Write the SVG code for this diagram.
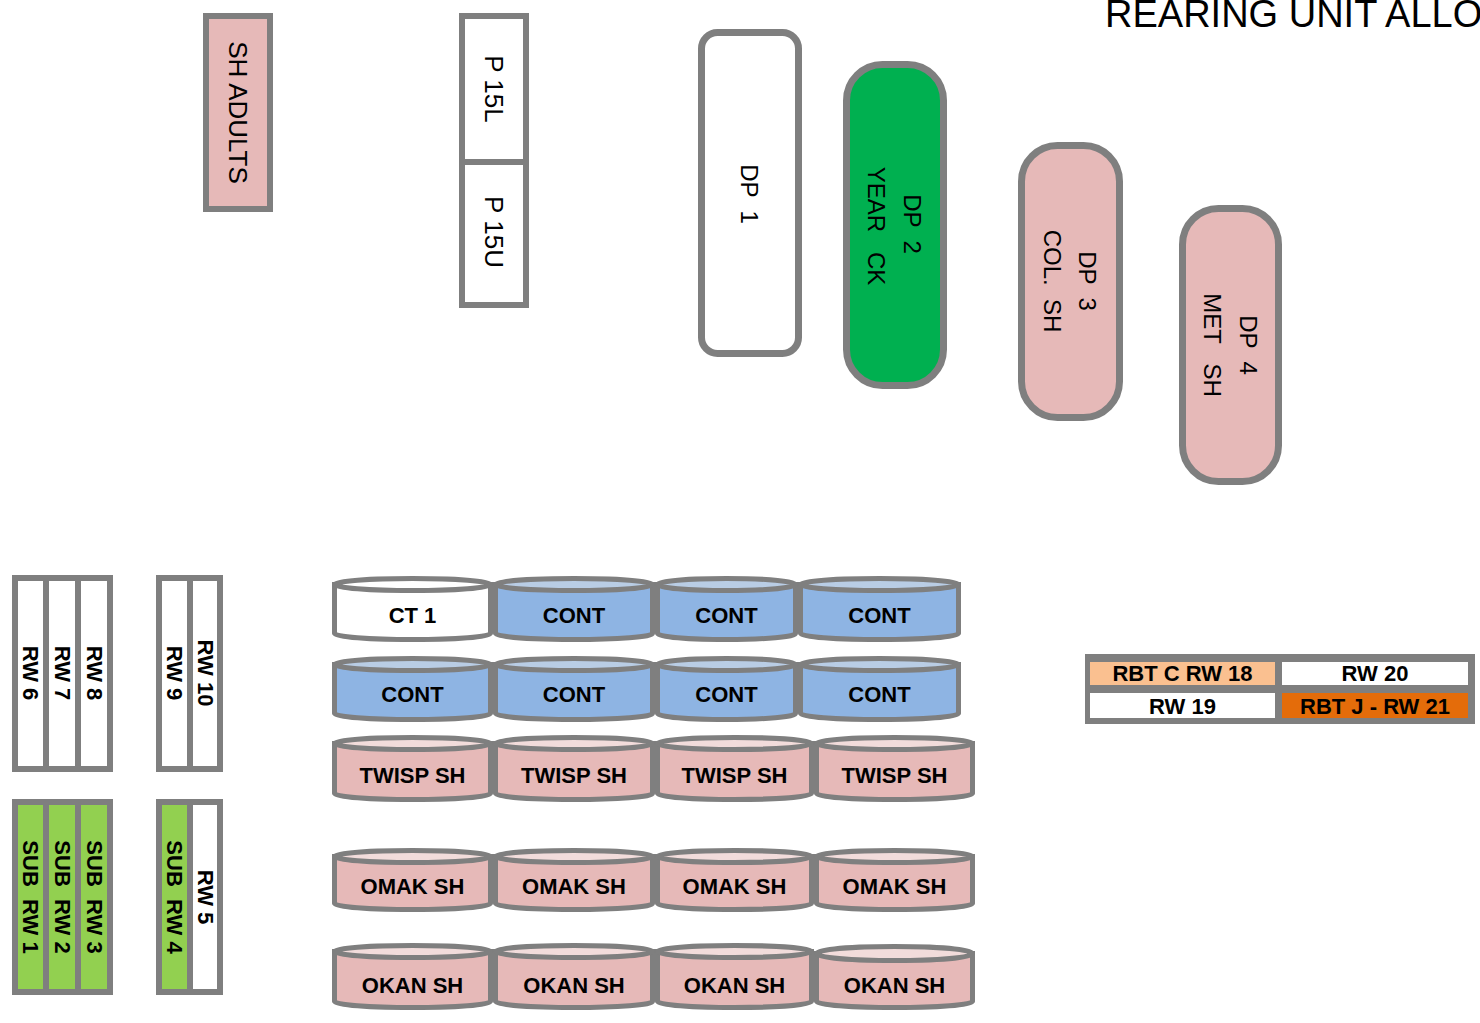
<svg xmlns="http://www.w3.org/2000/svg" width="1480" height="1023" viewBox="0 0 1480 1023">
<style>
.box{stroke:#7F7F7F;stroke-width:6}
.dp{stroke:#7F7F7F;stroke-width:7}
.tk{stroke:#7F7F7F;stroke-width:5}
.t{font-family:"Liberation Sans",Arial,sans-serif;fill:#000;text-anchor:middle;dominant-baseline:central;white-space:pre}
.r26{font-size:26px}
.r24{font-size:24px}
.b{font-weight:bold;font-size:22px}
.pk{fill:#E6B9B8}
.pkt{fill:#F2DCDB}
.bl{fill:#8EB4E3}
.blt{fill:#B9CDE5}
.wh{fill:#FFFFFF}
.gr{fill:#92D050}
</style>
<rect width="1480" height="1023" fill="#FFFFFF"/>
<text x="1105" y="27" style="font-family:'Liberation Sans',Arial,sans-serif;font-size:38px;fill:#000">REARING UNIT ALLO</text>

<g id="sh-adults">
<rect class="box pk" x="206" y="16" width="64" height="193"/>
<text class="t r26" transform="translate(238 112.5) rotate(90)">SH ADULTS</text>
</g>

<g id="p15">
<rect class="box wh" x="462" y="16" width="64" height="289"/>
<line class="box" x1="462" y1="162" x2="526" y2="162"/>
<text class="t r26" transform="translate(494 89) rotate(90)">P 15L</text>
<text class="t r26" transform="translate(494 232) rotate(90)">P 15U</text>
</g>

<g id="dp1">
<rect class="dp wh" x="701.5" y="32.5" width="97" height="321" rx="16"/>
<text class="t r24" transform="translate(749 194) rotate(90)">DP  1</text>
</g>
<g id="dp2">
<rect class="dp" fill="#00B050" x="846.5" y="64.5" width="97" height="321" rx="36"/>
<text class="t r24" transform="translate(912 224) rotate(90)">DP  2</text>
<text class="t r24" transform="translate(876 226) rotate(90)">YEAR   CK</text>
</g>
<g id="dp3">
<rect class="dp pk" x="1021.5" y="145.5" width="98" height="272" rx="36"/>
<text class="t r24" transform="translate(1087 281) rotate(90)">DP  3</text>
<text class="t r24" transform="translate(1052 281) rotate(90)">COL.  SH</text>
</g>
<g id="dp4">
<rect class="dp pk" x="1182.5" y="208.5" width="96" height="273" rx="36"/>
<text class="t r24" transform="translate(1248 345) rotate(90)">DP  4</text>
<text class="t r24" transform="translate(1212 345) rotate(90)">MET   SH</text>
</g>

<g id="rw6-8">
<rect class="box wh" x="15" y="578" width="95" height="191"/>
<line class="box" x1="46" y1="578" x2="46" y2="769"/>
<line class="box" x1="78" y1="578" x2="78" y2="769"/>
<text class="t b" transform="translate(30.5 673) rotate(90)">RW 6</text>
<text class="t b" transform="translate(62 673) rotate(90)">RW 7</text>
<text class="t b" transform="translate(94 673) rotate(90)">RW 8</text>
</g>
<g id="rw9-10">
<rect class="box wh" x="159" y="578" width="61" height="191"/>
<line class="box" x1="190" y1="578" x2="190" y2="769"/>
<text class="t b" transform="translate(174.5 673) rotate(90)">RW 9</text>
<text class="t b" transform="translate(205 673) rotate(90)">RW 10</text>
</g>
<g id="sub-rw1-3">
<rect class="box gr" x="15" y="802" width="95" height="190"/>
<line class="box" x1="46" y1="802" x2="46" y2="992"/>
<line class="box" x1="78" y1="802" x2="78" y2="992"/>
<text class="t b" transform="translate(30.5 897) rotate(90)">SUB  RW 1</text>
<text class="t b" transform="translate(62 897) rotate(90)">SUB  RW 2</text>
<text class="t b" transform="translate(94 897) rotate(90)">SUB  RW 3</text>
</g>
<g id="rw4-5">
<rect class="box wh" x="159" y="802" width="61" height="190"/>
<rect class="gr" x="162" y="805" width="28" height="184"/>
<line class="box" x1="190" y1="802" x2="190" y2="992"/>
<text class="t b" transform="translate(174.5 897) rotate(90)">SUB  RW 4</text>
<text class="t b" transform="translate(205 897) rotate(90)">RW 5</text>
</g>

<!-- row 1 -->
<g id="ct1">
<path class="tk wh" d="M334.5 584.5V633.5A78 6 0 0 0 490.5 633.5V584.5Z"/>
<ellipse class="tk wh" cx="412.5" cy="584.5" rx="78" ry="6"/>
<text class="t b" x="412.5" y="615">CT 1</text>
</g>
<g id="cont-1-2">
<path class="tk bl" d="M495.5 584.5V633.5A78.5 6 0 0 0 652.5 633.5V584.5Z"/>
<ellipse class="tk blt" cx="574" cy="584.5" rx="78.5" ry="6"/>
<text class="t b" x="574" y="615">CONT</text>
</g>
<g id="cont-1-3">
<path class="tk bl" d="M657.5 584.5V633.5A69 6 0 0 0 795.5 633.5V584.5Z"/>
<ellipse class="tk blt" cx="726.5" cy="584.5" rx="69" ry="6"/>
<text class="t b" x="726.5" y="615">CONT</text>
</g>
<g id="cont-1-4">
<path class="tk bl" d="M800.5 584.5V633.5A79 6 0 0 0 958.5 633.5V584.5Z"/>
<ellipse class="tk blt" cx="879.5" cy="584.5" rx="79" ry="6"/>
<text class="t b" x="879.5" y="615">CONT</text>
</g>
<!-- row 2 -->
<g id="cont-2-1">
<path class="tk bl" d="M334.5 664.5V713.5A78 6 0 0 0 490.5 713.5V664.5Z"/>
<ellipse class="tk blt" cx="412.5" cy="664.5" rx="78" ry="6"/>
<text class="t b" x="412.5" y="694">CONT</text>
</g>
<g id="cont-2-2">
<path class="tk bl" d="M495.5 664.5V713.5A78.5 6 0 0 0 652.5 713.5V664.5Z"/>
<ellipse class="tk blt" cx="574" cy="664.5" rx="78.5" ry="6"/>
<text class="t b" x="574" y="694">CONT</text>
</g>
<g id="cont-2-3">
<path class="tk bl" d="M657.5 664.5V713.5A69 6 0 0 0 795.5 713.5V664.5Z"/>
<ellipse class="tk blt" cx="726.5" cy="664.5" rx="69" ry="6"/>
<text class="t b" x="726.5" y="694">CONT</text>
</g>
<g id="cont-2-4">
<path class="tk bl" d="M800.5 664.5V713.5A79 6 0 0 0 958.5 713.5V664.5Z"/>
<ellipse class="tk blt" cx="879.5" cy="664.5" rx="79" ry="6"/>
<text class="t b" x="879.5" y="694">CONT</text>
</g>
<!-- row 3 -->
<g id="twisp-1">
<path class="tk pk" d="M334.5 743.5V793.5A78 6 0 0 0 490.5 793.5V743.5Z"/>
<ellipse class="tk pkt" cx="412.5" cy="743.5" rx="78" ry="6"/>
<text class="t b" x="412.5" y="775">TWISP SH</text>
</g>
<g id="twisp-2">
<path class="tk pk" d="M495.5 743.5V793.5A78.5 6 0 0 0 652.5 793.5V743.5Z"/>
<ellipse class="tk pkt" cx="574" cy="743.5" rx="78.5" ry="6"/>
<text class="t b" x="574" y="775">TWISP SH</text>
</g>
<g id="twisp-3">
<path class="tk pk" d="M657.5 743.5V793.5A77 6 0 0 0 811.5 793.5V743.5Z"/>
<ellipse class="tk pkt" cx="734.5" cy="743.5" rx="77" ry="6"/>
<text class="t b" x="734.5" y="775">TWISP SH</text>
</g>
<g id="twisp-4">
<path class="tk pk" d="M816.5 743.5V793.5A78 6 0 0 0 972.5 793.5V743.5Z"/>
<ellipse class="tk pkt" cx="894.5" cy="743.5" rx="78" ry="6"/>
<text class="t b" x="894.5" y="775">TWISP SH</text>
</g>
<!-- row 4 -->
<g id="omak-1">
<path class="tk pk" d="M334.5 856.5V903.5A78 6 0 0 0 490.5 903.5V856.5Z"/>
<ellipse class="tk pkt" cx="412.5" cy="856.5" rx="78" ry="6"/>
<text class="t b" x="412.5" y="886">OMAK SH</text>
</g>
<g id="omak-2">
<path class="tk pk" d="M495.5 856.5V903.5A78.5 6 0 0 0 652.5 903.5V856.5Z"/>
<ellipse class="tk pkt" cx="574" cy="856.5" rx="78.5" ry="6"/>
<text class="t b" x="574" y="886">OMAK SH</text>
</g>
<g id="omak-3">
<path class="tk pk" d="M657.5 856.5V903.5A77 6 0 0 0 811.5 903.5V856.5Z"/>
<ellipse class="tk pkt" cx="734.5" cy="856.5" rx="77" ry="6"/>
<text class="t b" x="734.5" y="886">OMAK SH</text>
</g>
<g id="omak-4">
<path class="tk pk" d="M816.5 856.5V903.5A78 6 0 0 0 972.5 903.5V856.5Z"/>
<ellipse class="tk pkt" cx="894.5" cy="856.5" rx="78" ry="6"/>
<text class="t b" x="894.5" y="886">OMAK SH</text>
</g>
<!-- row 5 -->
<g id="okan-1">
<path class="tk pk" d="M334.5 951.5V1001.5A78 6 0 0 0 490.5 1001.5V951.5Z"/>
<ellipse class="tk pkt" cx="412.5" cy="951.5" rx="78" ry="6"/>
<text class="t b" x="412.5" y="985">OKAN SH</text>
</g>
<g id="okan-2">
<path class="tk pk" d="M495.5 951.5V1001.5A78.5 6 0 0 0 652.5 1001.5V951.5Z"/>
<ellipse class="tk pkt" cx="574" cy="951.5" rx="78.5" ry="6"/>
<text class="t b" x="574" y="985">OKAN SH</text>
</g>
<g id="okan-3">
<path class="tk pk" d="M657.5 951.5V1001.5A77 6 0 0 0 811.5 1001.5V951.5Z"/>
<ellipse class="tk pkt" cx="734.5" cy="951.5" rx="77" ry="6"/>
<text class="t b" x="734.5" y="985">OKAN SH</text>
</g>
<g id="okan-4">
<path class="tk pk" d="M816.5 953.5V1001.5A78 6 0 0 0 972.5 1001.5V953.5Z"/>
<ellipse class="tk pkt" cx="894.5" cy="953.5" rx="78" ry="7"/>
<text class="t b" x="894.5" y="985">OKAN SH</text>
</g>

<g id="rbt">
<rect x="1085" y="654" width="390" height="70" fill="#7F7F7F"/>
<rect x="1090" y="662" width="185" height="23" fill="#FAC090"/>
<rect x="1282" y="662" width="186" height="23" fill="#FFFFFF"/>
<rect x="1090" y="693" width="185" height="25" fill="#FFFFFF"/>
<rect x="1282" y="693" width="186" height="25" fill="#E46C0A"/>
<text class="t b" x="1182.5" y="673.5">RBT C RW 18</text>
<text class="t b" x="1375" y="673.5">RW 20</text>
<text class="t b" x="1182.5" y="706">RW 19</text>
<text class="t b" x="1375" y="706">RBT J - RW 21</text>
</g>

<g id="connectors"/>
</svg>
